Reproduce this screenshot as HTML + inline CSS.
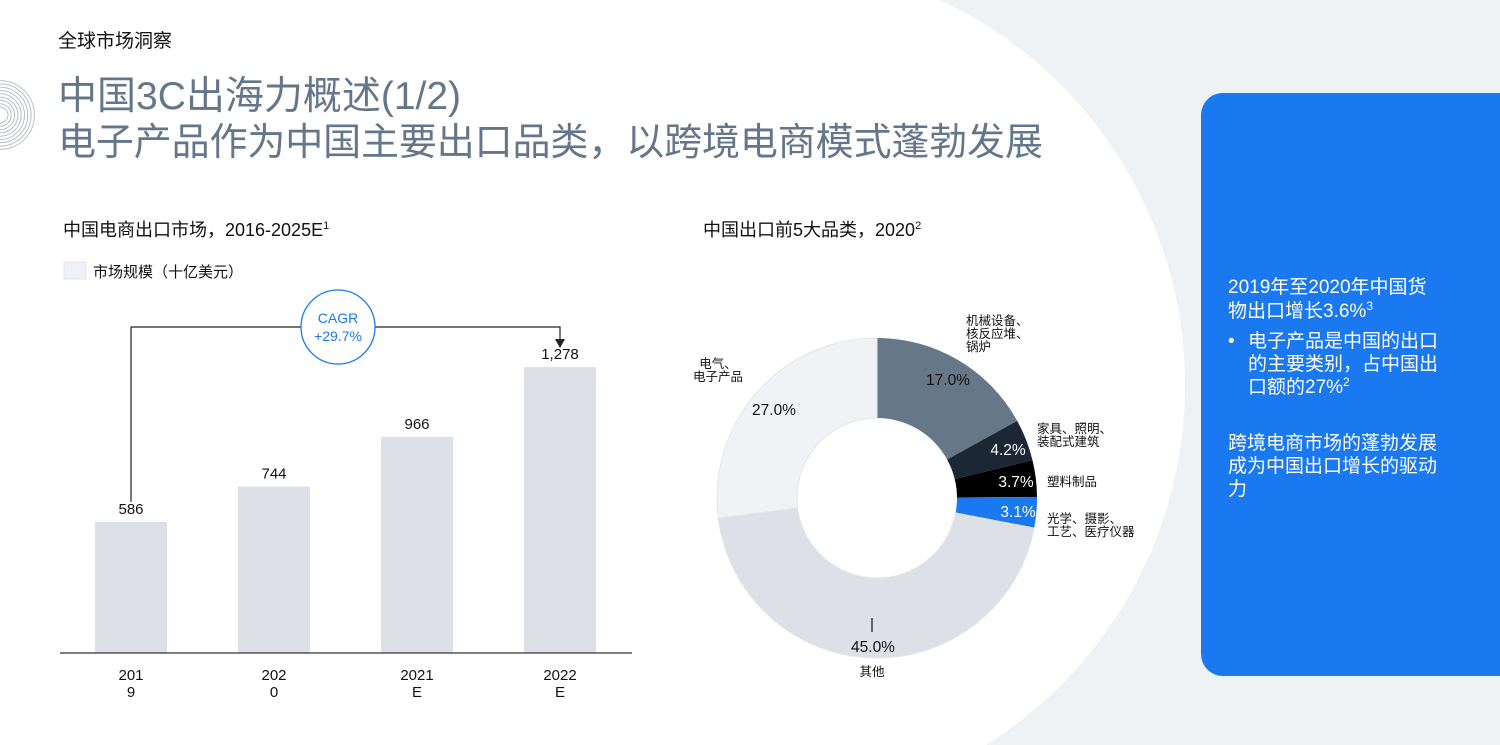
<!DOCTYPE html>
<html><head><meta charset="utf-8">
<style>
html,body{margin:0;padding:0;background:#fff;overflow:hidden;width:1500px;height:745px;}
svg{display:block;overflow:hidden;font-family:"Liberation Sans","Noto Sans CJK SC",sans-serif;}
</style></head>
<body>
<svg width="1500" height="745" viewBox="0 0 1500 745">
  <rect x="0" y="0" width="1500" height="745" fill="#eff2f5"/>
  <circle cx="760" cy="385" r="425" fill="#ffffff"/>
  <rect x="0" y="0" width="760" height="745" fill="#ffffff"/>
  <g id="rings" fill="none" stroke="#b8bec6" stroke-width="1"></g>

  <text x="58" y="47" font-size="19" fill="#111">全球市场洞察</text>
  <text x="58" y="109" font-size="39" fill="#64778a">中国3C出海力概述(1/2)</text>
  <text x="58" y="155" font-size="38" fill="#64778a" textLength="985">电子产品作为中国主要出口品类，以跨境电商模式蓬勃发展</text>

  <text x="63" y="236" font-size="18" fill="#111">中国电商出口市场，2016-2025E<tspan font-size="11" dy="-7">1</tspan></text>
  <rect x="64" y="262" width="22" height="17" fill="#eef1f5" stroke="#e1e5ea"/>
  <text x="93" y="277" font-size="15" fill="#111">市场规模（十亿美元）</text>

  <g id="bars"></g>

  <text x="703" y="236" font-size="18" fill="#111">中国出口前5大品类，2020<tspan font-size="11" dy="-7">2</tspan></text>
  <g id="donut"></g>

  <rect x="1201" y="93" width="320" height="583" rx="22" fill="#1a78f0"/>
  <g fill="#ffffff" font-size="19">
    <text x="1228" y="293">2019年至2020年中国货</text>
    <text x="1228" y="317">物出口增长3.6%<tspan font-size="12" dy="-7">3</tspan></text>
    <text x="1228" y="347">•</text>
    <text x="1248" y="347">电子产品是中国的出口</text>
    <text x="1248" y="370">的主要类别，占中国出</text>
    <text x="1248" y="393">口额的27%<tspan font-size="12" dy="-7">2</tspan></text>
    <text x="1228" y="449">跨境电商市场的蓬勃发展</text>
    <text x="1228" y="472">成为中国出口增长的驱动</text>
    <text x="1228" y="495">力</text>
  </g>
</svg>
<script>
const NS='http://www.w3.org/2000/svg';
function mk(tag,attrs,parent){const e=document.createElementNS(NS,tag);for(const k in attrs)e.setAttribute(k,attrs[k]);parent.appendChild(e);return e;}

const rings=document.getElementById('rings');
for(let i=0;i<9;i++){const c=mk('circle',{cx:0,cy:115,r:8+i*3.3},rings);

}

const barCategories=[['201','9'],['202','0'],['2021','E'],['2022','E']];
const barValues=[586,744,966,1278];
const barLabels=['586','744','966','1,278'];
const bars=document.getElementById('bars');
const baseY=653, pxPerUnit=286/1278, barW=72, x0=95, step=143;
function yS(v){return baseY-v*pxPerUnit;}
barValues.forEach((v,i)=>{
  const x=x0+i*step;
  const r=mk('rect',{x:x,y:yS(v),width:barW,height:baseY-yS(v),fill:'#dde1e7'},bars);
  
  
  const t=mk('text',{x:x+barW/2,y:yS(v)-8,'font-size':15,'text-anchor':'middle',fill:'#111'},bars);
  t.textContent=barLabels[i];
  
  
  barCategories[i].forEach((s,j)=>{
    const l=mk('text',{x:x+barW/2,y:680+j*17,'font-size':15,'text-anchor':'middle',fill:'#111'},bars);
    l.textContent=s;
    
    
  });
});
const ax=mk('line',{x1:60,x2:632,y1:baseY,y2:baseY,stroke:'#333','stroke-width':1.2},bars);


const xa=x0+barW/2, xb=x0+3*step+barW/2;
const conn=mk('path',{d:`M${xa} ${yS(barValues[0])-20} V327 H${xb} V${yS(barValues[3])-20}`,fill:'none',stroke:'#222','stroke-width':1.2},bars);


const ar=mk('path',{d:`M${xb-5} ${yS(barValues[3])-28} L${xb+5} ${yS(barValues[3])-28} L${xb} ${yS(barValues[3])-19} Z`,fill:'#222'},bars);


const cc=mk('circle',{cx:338,cy:327,r:37,fill:'#fff',stroke:'#1a78f0','stroke-width':1.3},bars);


[['CAGR',323],['+29.7%',341]].forEach(([s,y])=>{const t=mk('text',{x:338,y:y,'font-size':14,'text-anchor':'middle',fill:'#1a78f0'},bars);t.textContent=s;

});

const donutValues=[17.0,4.2,3.7,3.1,45.0,27.0];
const donutLabels=['17.0%','4.2%','3.7%','3.1%','45.0%','27.0%'];
const donutNames=['machinery','furniture','plastics','optical','other','electronics'];
const donutColors=['#667788','#1b2734','#000000','#1a78f0','#dde1e7','#f0f2f6'];
const donut=document.getElementById('donut');
const cx=877,cy=498,R=160,r0=80;
let acc=0;
function pt(a,rad){return [cx+rad*Math.sin(a),cy-rad*Math.cos(a)];}
donutValues.forEach((v,i)=>{
  const a1=acc/100*2*Math.PI, a2=(acc+v)/100*2*Math.PI; acc+=v;
  const lg=(a2-a1)>Math.PI?1:0;
  const [x1,y1]=pt(a1,R),[x2,y2]=pt(a2,R),[x3,y3]=pt(a2,r0),[x4,y4]=pt(a1,r0);
  const p=mk('path',{d:`M${x1} ${y1} A${R} ${R} 0 ${lg} 1 ${x2} ${y2} L${x3} ${y3} A${r0} ${r0} 0 ${lg} 0 ${x4} ${y4} Z`,fill:donutColors[i],stroke:i>=4?'#e3e6eb':'none','stroke-width':1},donut);
  
  
});
const pctPos=[[948,379],[1008,449],[1016,481],[1018,511],[873,646],[774,409]];
donutLabels.forEach((s,i)=>{
  const t=mk('text',{x:pctPos[i][0],y:pctPos[i][1]+6,'font-size':15.5,'text-anchor':'middle',fill:(i>=1&&i<=3)?'#fff':'#111'},donut);
  t.textContent=s;
  
  
});
const tick=mk('line',{x1:872,x2:872,y1:618,y2:632,stroke:'#111','stroke-width':1.2},donut);


const catLabels=[
  [['机械设备、','核反应堆、','锅炉'],966,325,'start'],
  [['家具、照明、','装配式建筑'],1037,433,'start'],
  [['塑料制品'],1047,486,'start'],
  [['光学、摄影、','工艺、医疗仪器'],1047,523,'start'],
  [['其他'],872,676,'middle'],
  [['电气、','电子产品'],718,368,'middle']
];
catLabels.forEach(([lines,x,y,anc])=>{
  lines.forEach((s,j)=>{const t=mk('text',{x:x,y:y+j*13,'font-size':12.5,'text-anchor':anc,fill:'#111'},donut);t.textContent=s;
  
  });
});
</script>
</body></html>
